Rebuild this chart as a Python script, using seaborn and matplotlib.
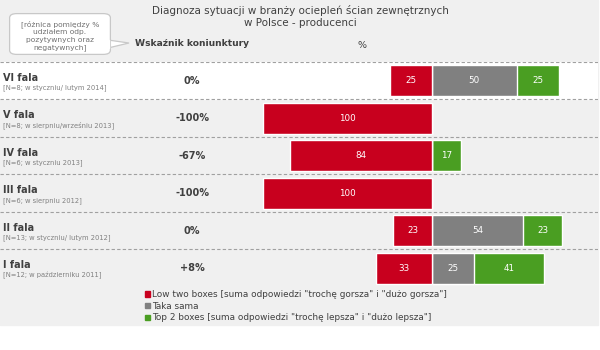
import numpy as np
import pandas as pd
import matplotlib.pyplot as plt
import seaborn as sns
from matplotlib.patches import Rectangle, FancyBboxPatch, Polygon, Patch
import matplotlib.transforms as mtransforms

# chart data
waves = ['VI fala', 'V fala', 'IV fala', 'III fala', 'II fala', 'I fala']
samples = ['[N=8; w styczniu/ lutym 2014]', '[N=8; w sierpniu/wrześniu 2013]',
           '[N=6; w styczniu 2013]', '[N=6; w sierpniu 2012]',
           '[N=13; w styczniu/ lutym 2012]', '[N=12; w październiku 2011]']
indicator = ['0%', '-100%', '-67%', '-100%', '0%', '+8%']
low = [25, 100, 84, 100, 23, 33]
same = [50, 0, 0, 0, 54, 25]
top = [25, 0, 17, 0, 23, 41]
legend_labels = ['Low two boxes [suma odpowiedzi "trochę gorsza" i "dużo gorsza"]',
                 'Taka sama',
                 'Top 2 boxes [suma odpowiedzi "trochę lepsza" i "dużo lepsza"]']

RED = '#c8001e'
GREY = '#808080'
GREEN = '#4a9e22'
BG = '#f0f0f0'

sns.set_style('white')
plt.rcParams['font.family'] = ['DejaVu Sans']

df = pd.DataFrame({'wave': waves, 'low': low, 'same': same, 'top': top})
df['neg'] = -df['low']
df['pos'] = df['same'] + df['top']

W, H = 600, 350
fig = plt.figure(figsize=(6, 3.5), dpi=100)

# grey panel behind everything
fig.patches.append(Rectangle((0, 1 - 325 / H), 598 / W, 325 / H,
                             transform=fig.transFigure, color=BG, zorder=-5))

top_px, bot_px = 62, 287
ax = fig.add_axes([0, 1 - bot_px / H, 598 / W, (bot_px - top_px) / H])
ax.set_zorder(1)
ax.patch.set_alpha(0)

# diverging stacked bars
sns.barplot(data=df, x='pos', y='wave', orient='h', color=GREEN, saturation=1,
            width=0.83, ax=ax, zorder=3)
sns.barplot(data=df, x='same', y='wave', orient='h', color=GREY, saturation=1,
            width=0.83, ax=ax, zorder=3)
sns.barplot(data=df, x='neg', y='wave', orient='h', color=RED, saturation=1,
            width=0.83, ax=ax, zorder=3)

ax.set_xlim(-255.6, 98.2)
ax.set_ylim(5.5, -0.5)
ax.axis('off')

# highlighted first row and dashed separators
ax.axhspan(-0.5, 0.5, color='white', zorder=1)
for i in range(len(waves)):
    ax.axhline(i - 0.5, color='#a0a0a0', lw=0.8, ls=(0, (3, 2)), zorder=2)

# value labels
for i, row in df.iterrows():
    if row['low'] > 0:
        ax.text(-row['low'] / 2, i, str(row['low']), color='white', fontsize=6.3,
                ha='center', va='center', zorder=4)
    if row['same'] > 0:
        ax.text(row['same'] / 2, i, str(row['same']), color='white', fontsize=6.3,
                ha='center', va='center', zorder=4)
    if row['top'] > 0:
        ax.text(row['same'] + row['top'] / 2, i, str(row['top']), color='white',
                fontsize=6.3, ha='center', va='center', zorder=4)

# row labels and indicator
tr = mtransforms.blended_transform_factory(ax.transAxes, ax.transData)
for i in range(len(waves)):
    ax.text(3 / 598, i - 0.08, waves[i], transform=tr, fontsize=7, fontweight='bold',
            color='#404040', ha='left', va='center')
    ax.text(3 / 598, i + 0.19, samples[i], transform=tr, fontsize=4.9,
            color='#808080', ha='left', va='center')
    ax.text(192 / 598, i, indicator[i], transform=tr, fontsize=7, fontweight='bold',
            color='#404040', ha='center', va='center')

# title and headers
fig.text(300 / W, 1 - 16.5 / H, 'Diagnoza sytuacji w branży ociepleń ścian zewnętrznych\nw Polsce - producenci',
         ha='center', va='center', fontsize=7.5, color='#404040', linespacing=1.3)
fig.text(135 / W, 1 - 44 / H, 'Wskaźnik koniunktury', ha='left', va='center',
         fontsize=6.6, fontweight='bold', color='#404040')
fig.text(362 / W, 1 - 45 / H, '%', ha='center', va='center', fontsize=6.8, color='#404040')

# callout bubble
fig.patches.append(Polygon([(108 / W, 1 - 40 / H), (129 / W, 1 - 43 / H), (108 / W, 1 - 48 / H)],
                           closed=True, transform=fig.transFigure, facecolor='white',
                           edgecolor='#c8c8c8', lw=0.9, zorder=5))
fig.patches.append(FancyBboxPatch((12 / W, 1 - 53 / H), 96 / W, 38 / H,
                                  boxstyle='round,pad=0.004,rounding_size=0.012',
                                  transform=fig.transFigure, facecolor='white',
                                  edgecolor='#c8c8c8', lw=0.9, zorder=6))
fig.patches.append(Rectangle((106 / W, 1 - 47.5 / H), 3 / W, 7 / H,
                             transform=fig.transFigure, color='white', zorder=7))
fig.text(60 / W, 1 - 35.5 / H, '[różnica pomiędzy %\nudziałem odp.\npozytywnych oraz\nnegatywnych]',
         ha='center', va='center', fontsize=5.4, color='#707070', linespacing=1.25, zorder=8)

# legend
handles = [Patch(color=c) for c in [RED, GREY, GREEN]]
fig.legend(handles, legend_labels, loc='upper left', bbox_to_anchor=(145 / W, 1 - 290 / H),
           frameon=False, fontsize=6.4, handlelength=0.55, handleheight=0.55,
           handletextpad=0.25, labelspacing=0.3, borderpad=0, borderaxespad=0,
           labelcolor='#404040')

fig.savefig('out.png', dpi=100)
